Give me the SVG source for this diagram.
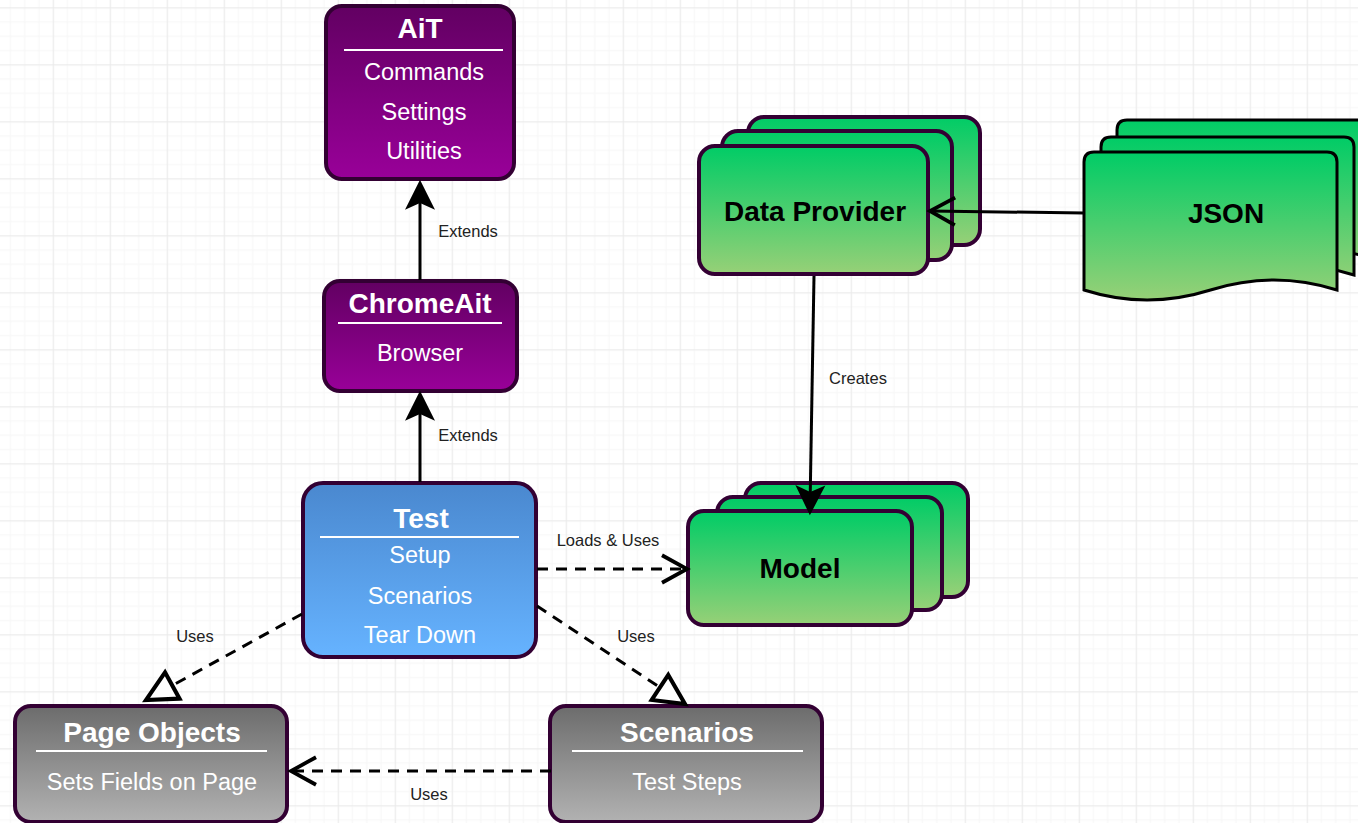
<svg xmlns="http://www.w3.org/2000/svg" width="1358" height="823" viewBox="0 0 1358 823">
<style>
.box{stroke:#330033;stroke-width:4}
.t{font-family:"Liberation Sans",Arial,sans-serif;text-anchor:middle}
.title{font-size:28px;font-weight:bold;fill:#ffffff}
.item{font-size:23.5px;fill:#ffffff}
.dark{font-size:28px;font-weight:bold;fill:#000000}
.lbl{font-size:16.5px;fill:#222222}
.sep{stroke:#ffffff;stroke-width:2}
.edge{fill:none;stroke:#000000;stroke-width:3}
.dash{stroke-dasharray:11 8}
</style>
<defs>
<pattern id="grid" x="52.7" y="7.3" width="57" height="57" patternUnits="userSpaceOnUse">
<rect x="14.25" y="0" width="1" height="57" fill="#f6f6f6"/>
<rect x="28.5" y="0" width="1" height="57" fill="#f6f6f6"/>
<rect x="42.75" y="0" width="1" height="57" fill="#f6f6f6"/>
<rect x="0" y="14.25" width="57" height="1" fill="#f6f6f6"/>
<rect x="0" y="28.5" width="57" height="1" fill="#f6f6f6"/>
<rect x="0" y="42.75" width="57" height="1" fill="#f6f6f6"/>
<rect x="0" y="0" width="1.2" height="57" fill="#ebebeb"/>
<rect x="0" y="0" width="57" height="1.2" fill="#ebebeb"/>
</pattern>
<linearGradient id="gPurple" x1="0" y1="0" x2="0" y2="1"><stop offset="0" stop-color="#620062"/><stop offset="1" stop-color="#990099"/></linearGradient>
<linearGradient id="gBlue" x1="0" y1="0" x2="0" y2="1"><stop offset="0" stop-color="#4a88cf"/><stop offset="1" stop-color="#66b3ff"/></linearGradient>
<linearGradient id="gGreen" x1="0" y1="0" x2="0" y2="1"><stop offset="0" stop-color="#00cc66"/><stop offset="1" stop-color="#97d077"/></linearGradient>
<linearGradient id="gGray" x1="0" y1="0" x2="0" y2="1"><stop offset="0" stop-color="#6c6c6c"/><stop offset="1" stop-color="#b2b2b2"/></linearGradient>
<marker id="classic" markerUnits="userSpaceOnUse" markerWidth="30" markerHeight="30" viewBox="0 0 22 22" refX="16" refY="11" orient="auto" overflow="visible">
<path d="M0,0 L22,11 L0,22 L5,11 Z" fill="#000000"/>
</marker>
<marker id="open" markerUnits="userSpaceOnUse" markerWidth="30" markerHeight="30" viewBox="0 0 22 24" refX="20" refY="12" orient="auto" overflow="visible">
<path d="M0,1 L20,12 L0,23" fill="none" stroke="#000000" stroke-width="3"/>
</marker>
<marker id="tri" markerUnits="userSpaceOnUse" markerWidth="30" markerHeight="30" viewBox="0 0 22 22" refX="22" refY="11" orient="auto" overflow="visible">
<path d="M0,0 L22,11 L0,22 Z" fill="#ffffff" stroke="#000000" stroke-width="3"/>
</marker>
</defs>
<rect x="0" y="0" width="1358" height="823" fill="#ffffff"/>
<rect x="0" y="0" width="1358" height="823" fill="url(#grid)"/>

<g id="ait">
<rect class="box" x="326" y="6" width="188" height="173" rx="16" fill="url(#gPurple)"/>
<text class="t title" x="420" y="38">AiT</text>
<line class="sep" x1="344" y1="50" x2="503" y2="50"/>
<text class="t item" x="424" y="80">Commands</text>
<text class="t item" x="424" y="120">Settings</text>
<text class="t item" x="424" y="159">Utilities</text>
</g>

<g id="chromeait">
<rect class="box" x="324" y="281" width="193" height="110" rx="16" fill="url(#gPurple)"/>
<text class="t title" x="420" y="313">ChromeAit</text>
<line class="sep" x1="338" y1="323" x2="502" y2="323"/>
<text class="t item" x="420" y="361">Browser</text>
</g>

<g id="test">
<rect class="box" x="303" y="483" width="233" height="174" rx="20" fill="url(#gBlue)"/>
<text class="t title" x="421" y="528">Test</text>
<line class="sep" x1="320" y1="537" x2="519" y2="537"/>
<text class="t item" x="420" y="563">Setup</text>
<text class="t item" x="420" y="604">Scenarios</text>
<text class="t item" x="420" y="643">Tear Down</text>
</g>

<g id="dataprovider">
<rect class="box" x="748" y="117" width="232" height="128" rx="16" fill="url(#gGreen)"/>
<rect class="box" x="722" y="131" width="230" height="129" rx="16" fill="url(#gGreen)"/>
<rect class="box" x="699" y="146" width="229" height="128" rx="16" fill="url(#gGreen)"/>
<text class="t dark" x="815" y="221">Data Provider</text>
</g>

<g id="json">
<path d="M1117,130 Q1117,120 1127,120 L1360,120 Q1370,120 1370,130 L1370,258 Q1307,238 1243.5,258 Q1180,278 1117,258 Z" fill="url(#gGreen)" stroke="#000000" stroke-width="3"/>
<path d="M1101,147 Q1101,137 1111,137 L1344,137 Q1354,137 1354,147 L1354,275 Q1291,255 1227.5,275 Q1164,295 1101,275 Z" fill="url(#gGreen)" stroke="#000000" stroke-width="3"/>
<path d="M1084,162 Q1084,152 1094,152 L1327,152 Q1337,152 1337,162 L1337,290 Q1274,270 1210.5,290 Q1147,310 1084,290 Z" fill="url(#gGreen)" stroke="#000000" stroke-width="3"/>
<text class="t dark" x="1226" y="223">JSON</text>
</g>

<g id="model">
<rect class="box" x="745" y="483" width="223" height="114" rx="16" fill="url(#gGreen)"/>
<rect class="box" x="717" y="497" width="225" height="113" rx="16" fill="url(#gGreen)"/>
<rect class="box" x="688" y="511" width="224" height="114" rx="16" fill="url(#gGreen)"/>
<text class="t dark" x="800" y="578">Model</text>
</g>

<g id="pageobjects">
<rect class="box" x="15" y="706" width="272" height="116" rx="16" fill="url(#gGray)"/>
<text class="t title" x="152" y="742">Page Objects</text>
<line class="sep" x1="36" y1="751" x2="267" y2="751"/>
<text class="t item" x="152" y="790">Sets Fields on Page</text>
</g>

<g id="scenarios">
<rect class="box" x="550" y="706" width="272" height="116" rx="16" fill="url(#gGray)"/>
<text class="t title" x="687" y="742">Scenarios</text>
<line class="sep" x1="572" y1="751" x2="803" y2="751"/>
<text class="t item" x="687" y="790">Test Steps</text>
</g>

<g id="connectors">
<path class="edge" d="M420,280 L420,188" marker-end="url(#classic)"/>
<path class="edge" d="M420,482 L420,399" marker-end="url(#classic)"/>
<path class="edge" d="M814,276 L810,507" marker-end="url(#classic)"/>
<path class="edge" d="M1084,213 L930,211" marker-end="url(#open)"/>
<path class="edge dash" d="M537,569 L687,569" marker-end="url(#open)"/>
<path class="edge dash" d="M551,771 L291,771" marker-end="url(#open)"/>
<path class="edge dash" d="M302,614 L146,700" marker-end="url(#tri)"/>
<path class="edge dash" d="M537,606 L685,704" marker-end="url(#tri)"/>
<text class="t lbl" x="468" y="237">Extends</text>
<text class="t lbl" x="468" y="441">Extends</text>
<text class="t lbl" x="858" y="384">Creates</text>
<text class="t lbl" x="608" y="546">Loads &amp; Uses</text>
<text class="t lbl" x="195" y="642">Uses</text>
<text class="t lbl" x="636" y="642">Uses</text>
<text class="t lbl" x="429" y="800">Uses</text>
</g>
</svg>
